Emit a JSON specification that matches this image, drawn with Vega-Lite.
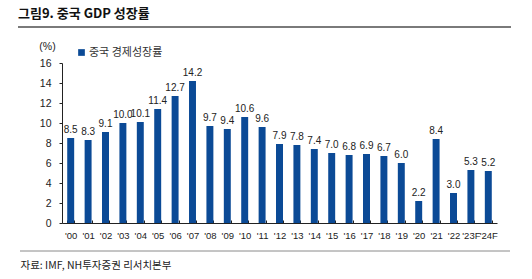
{
  "$schema": "https://vega.github.io/schema/vega-lite/v6.json",
  "autosize": "none",
  "width": 435,
  "height": 160,
  "padding": {"left": 62, "top": 63, "right": 35, "bottom": 56},
  "background": "white",
  "config": {
    "view": {"stroke": null},
    "font": "Liberation Sans",
    "axis": {"labelFont": "Liberation Sans", "labelColor": "#222", "labelFontSize": 10, "domainColor": "#222", "tickColor": "#222", "grid": false}
  },
  "title": {
    "text": "그림9. 중국 GDP 성장률",
    "anchor": "start",
    "frame": "group",
    "font": "Noto Sans CJK KR",
    "fontWeight": "bold",
    "fontSize": 13,
    "color": "#111",
    "dx": -44,
    "offset": 5
  },
  "data": {
    "values": [
      {"year": "'00", "growth": 8.5, "series": "중국 경제성장률"},
      {"year": "'01", "growth": 8.3, "series": "중국 경제성장률"},
      {"year": "'02", "growth": 9.1, "series": "중국 경제성장률"},
      {"year": "'03", "growth": 10.0, "series": "중국 경제성장률"},
      {"year": "'04", "growth": 10.1, "series": "중국 경제성장률"},
      {"year": "'05", "growth": 11.4, "series": "중국 경제성장률"},
      {"year": "'06", "growth": 12.7, "series": "중국 경제성장률"},
      {"year": "'07", "growth": 14.2, "series": "중국 경제성장률"},
      {"year": "'08", "growth": 9.7, "series": "중국 경제성장률"},
      {"year": "'09", "growth": 9.4, "series": "중국 경제성장률"},
      {"year": "'10", "growth": 10.6, "series": "중국 경제성장률"},
      {"year": "'11", "growth": 9.6, "series": "중국 경제성장률"},
      {"year": "'12", "growth": 7.9, "series": "중국 경제성장률"},
      {"year": "'13", "growth": 7.8, "series": "중국 경제성장률"},
      {"year": "'14", "growth": 7.4, "series": "중국 경제성장률"},
      {"year": "'15", "growth": 7.0, "series": "중국 경제성장률"},
      {"year": "'16", "growth": 6.8, "series": "중국 경제성장률"},
      {"year": "'17", "growth": 6.9, "series": "중국 경제성장률"},
      {"year": "'18", "growth": 6.7, "series": "중국 경제성장률"},
      {"year": "'19", "growth": 6.0, "series": "중국 경제성장률"},
      {"year": "'20", "growth": 2.2, "series": "중국 경제성장률"},
      {"year": "'21", "growth": 8.4, "series": "중국 경제성장률"},
      {"year": "'22", "growth": 3.0, "series": "중국 경제성장률"},
      {"year": "'23F", "growth": 5.3, "series": "중국 경제성장률"},
      {"year": "'24F", "growth": 5.2, "series": "중국 경제성장률"}
    ]
  },
  "encoding": {
    "x": {
      "field": "year",
      "type": "ordinal",
      "sort": null,
      "scale": {"paddingInner": 0.6, "paddingOuter": 0.3},
      "axis": {
        "labelAngle": 0,
        "tickBand": "extent",
        "tickSize": -3,
        "labelPadding": 10,
        "labelFontSize": 9.5,
        "title": "자료: IMF, NH투자증권 리서치본부",
        "titleFont": "Noto Sans CJK KR",
        "titleFontWeight": "normal",
        "titleFontSize": 10.5,
        "titleColor": "#222",
        "titleAnchor": "start",
        "titleAlign": "left",
        "titleBaseline": "middle",
        "titleX": -42,
        "titleY": 42
      }
    },
    "y": {
      "field": "growth",
      "type": "quantitative",
      "scale": {"domain": [0, 16], "nice": false},
      "axis": {
        "values": [0, 2, 4, 6, 8, 10, 12, 14, 16],
        "tickSize": 3,
        "labelPadding": 8,
        "labelFontSize": 10.5,
        "title": "(%)",
        "titleFont": "Liberation Sans",
        "titleFontWeight": "normal",
        "titleFontSize": 10.5,
        "titleColor": "#222",
        "titleAngle": 0,
        "titleAlign": "center",
        "titleBaseline": "middle",
        "titleX": -15,
        "titleY": -17
      }
    }
  },
  "layer": [
    {
      "mark": {"type": "bar", "color": "#0b4a96"},
      "encoding": {
        "color": {
          "field": "series",
          "type": "nominal",
          "scale": {"range": ["#0b4a96"]},
          "legend": {
            "title": null,
            "orient": "none",
            "legendX": 14,
            "legendY": -16,
            "symbolType": "square",
            "symbolSize": 45,
            "symbolStrokeWidth": 0,
            "labelFont": "Noto Sans CJK KR",
            "labelFontSize": 11,
            "labelColor": "#333",
            "labelOffset": 2
          }
        }
      }
    },
    {
      "mark": {"type": "text", "dy": -8, "fontSize": 10, "color": "#222", "font": "Liberation Sans"},
      "encoding": {"text": {"field": "growth", "type": "quantitative", "format": ".1f"}}
    },
    {
      "data": {"values": [{"k": "top"}]},
      "mark": {"type": "rule", "color": "#7a7a7a", "strokeWidth": 2},
      "encoding": {"x": {"value": -44}, "x2": {"value": 449}, "y": {"value": -36}}
    },
    {
      "data": {"values": [{"k": "bottom"}]},
      "mark": {"type": "rule", "color": "#8a8a8a", "strokeWidth": 1},
      "encoding": {"x": {"value": -42}, "x2": {"value": 448}, "y": {"value": 188}}
    }
  ]
}
